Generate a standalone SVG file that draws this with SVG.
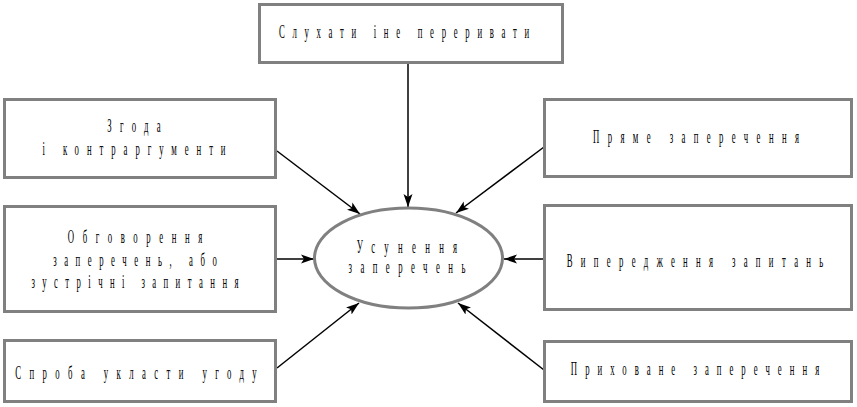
<svg xmlns="http://www.w3.org/2000/svg" width="857" height="407" viewBox="0 0 857 407">
<defs>
<style>
.box{fill:#fff;stroke:#808080;stroke-width:3}
.ell{fill:#fff;stroke:#808080;stroke-width:3}
.t{font-family:"Liberation Serif","DejaVu Serif",serif;font-size:19px;fill:#000;text-anchor:middle}
.c{stroke:#000;stroke-width:1.5;fill:none;marker-end:url(#ah)}
</style>
<marker id="ah" markerUnits="userSpaceOnUse" markerWidth="14" markerHeight="10" refX="13" refY="4.5" orient="auto" viewBox="0 0 14 9">
<path d="M0,0 L13,4.5 L0,9 L3,4.5 z" fill="#000"/>
</marker>
</defs>
<rect width="857" height="407" fill="#fff"/>
<g id="connectors">
<line class="c" x1="408" y1="64" x2="408" y2="207"/>
<line class="c" x1="277" y1="151" x2="360" y2="214"/>
<line class="c" x1="277" y1="259" x2="314" y2="259"/>
<line class="c" x1="277" y1="368" x2="359" y2="303"/>
<line class="c" x1="544" y1="147" x2="456" y2="213"/>
<line class="c" x1="544" y1="259" x2="504" y2="259"/>
<line class="c" x1="544" y1="370" x2="458" y2="303"/>
</g>
<g id="n-top">
<rect class="box" x="259.5" y="4.5" width="303" height="58"/>
<text class="t" transform="translate(404,38) scale(0.46,1)" textLength="544">Слухати іне переривати</text>
</g>
<g id="n-l1">
<rect class="box" x="4.5" y="99.5" width="271" height="78"/>
<text class="t" transform="translate(134,132) scale(0.46,1)" textLength="116">Згода</text>
<text class="t" transform="translate(134,155) scale(0.46,1)" textLength="398">і контраргументи</text>
</g>
<g id="n-l2">
<rect class="box" x="4.5" y="206.5" width="271" height="105"/>
<text class="t" transform="translate(135,243) scale(0.46,1)" textLength="292">Обговорення</text>
<text class="t" transform="translate(135,266) scale(0.46,1)" textLength="356">заперечень, або</text>
<text class="t" transform="translate(135,288) scale(0.46,1)" textLength="450">зустрічні запитання</text>
</g>
<g id="n-l3">
<rect class="box" x="4.5" y="340.5" width="271" height="61"/>
<text class="t" transform="translate(136,379) scale(0.46,1)" textLength="525">Спроба укласти угоду</text>
</g>
<g id="n-r1">
<rect class="box" x="544.5" y="99.5" width="307" height="77"/>
<text class="t" transform="translate(696,143) scale(0.46,1)" textLength="448">Пряме заперечення</text>
</g>
<g id="n-r2">
<rect class="box" x="544.5" y="205.5" width="307" height="104"/>
<text class="t" transform="translate(695,267) scale(0.46,1)" textLength="558">Випередження запитань</text>
</g>
<g id="n-r3">
<rect class="box" x="544.5" y="341.5" width="307" height="60"/>
<text class="t" transform="translate(695,375) scale(0.46,1)" textLength="540">Приховане заперечення</text>
</g>
<g id="n-center">
<ellipse class="ell" cx="408.5" cy="258" rx="94" ry="50"/>
<text class="t" transform="translate(407,253) scale(0.46,1)" textLength="218">Усунення</text>
<text class="t" transform="translate(407,273) scale(0.46,1)" textLength="254">заперечень</text>
</g>
</svg>
